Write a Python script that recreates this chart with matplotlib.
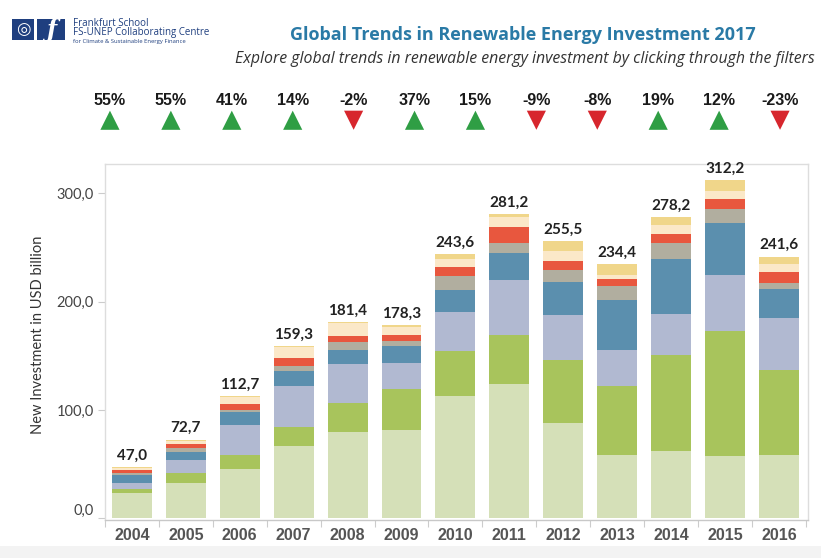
import matplotlib
matplotlib.use("Agg")
import matplotlib.pyplot as plt
from matplotlib.patches import Rectangle
import numpy as np

# --- data (USD billion) ---
years = ["2004", "2005", "2006", "2007", "2008", "2009", "2010",
         "2011", "2012", "2013", "2014", "2015", "2016"]
totals = [47.0, 72.7, 112.7, 159.3, 181.4, 178.3, 243.6,
          281.2, 255.5, 234.4, 278.2, 312.2, 241.6]

europe   = [23.7, 32.3, 45.8, 66.6, 79.9, 81.4, 113.0, 123.8, 87.7, 58.3, 62.0, 57.4, 58.3]
china    = [3.0, 9.2, 12.3, 17.5, 26.7, 38.4, 41.0, 45.0, 58.6, 63.9, 88.3, 115.7, 78.7]
us       = [5.6, 12.0, 28.5, 38.5, 36.0, 23.7, 36.5, 50.9, 41.7, 33.4, 38.6, 51.9, 47.9]
asia_oc  = [7.6, 8.0, 11.7, 13.2, 13.2, 15.3, 20.0, 25.4, 30.2, 46.3, 50.6, 47.2, 27.1]
americas = [2.2, 3.7, 1.5, 5.2, 6.7, 5.3, 12.9, 9.3, 10.8, 12.3, 14.9, 13.0, 5.3]
brazil   = [2.4, 3.0, 6.2, 7.1, 5.5, 5.5, 8.7, 14.8, 8.3, 7.1, 8.3, 9.2, 10.2]
mea      = [1.7, 3.5, 5.7, 10.2, 12.4, 6.7, 7.4, 8.9, 9.3, 3.7, 7.7, 7.7, 6.8]
india    = [0.8, 1.0, 1.0, 1.0, 1.0, 2.0, 4.1, 3.1, 8.9, 9.4, 7.8, 10.1, 7.3]

changes = [55, 55, 41, 14, -2, 37, 15, -9, -8, 19, 12, -23]

series = [europe, china, us, asia_oc, americas, brazil, mea, india]
colors = ["#d5e0b8", "#a8c45c", "#b1b9d1", "#5b8fae",
          "#b1ae9f", "#e8573e", "#fbe8c8", "#f0d68a"]

W, H = 821, 558
fig = plt.figure(figsize=(W / 100, H / 100), dpi=100)
fig.patch.set_facecolor("white")

# light band at the very bottom
fig.patches.append(Rectangle((0, 0), 1, 12 / H, transform=fig.transFigure,
                             facecolor="#f3f3f3", edgecolor="none", zorder=0))

# --- main chart ---
ax = fig.add_axes([105 / W, (H - 520) / H, 703 / W, 356 / H])
x = np.arange(len(years))
bottom = np.zeros(len(years))
for vals, c in zip(series, colors):
    ax.bar(x, vals, width=0.74, bottom=bottom, color=c, edgecolor="none", zorder=2)
    bottom += np.array(vals)

for xi, t in zip(x, totals):
    ax.text(xi, t + 4, f"{t:.1f}".replace(".", ","), ha="center", va="bottom",
            fontsize=11, fontweight="bold", color="#222222", family=["Lato", "DejaVu Sans"])

ax.set_xlim(-0.48, 12.54)
ax.set_ylim(-1.5, 327)
ax.set_yticks([0, 100, 200, 300])
ax.set_yticklabels(["0,0", "100,0", "200,0", "300,0"], fontsize=10.5,
                   color="#444444", family=["Lato", "DejaVu Sans"])
ax.get_yticklabels()[0].set_verticalalignment("bottom")
ax.tick_params(axis="y", length=5, color="#cccccc", width=0.8, pad=3)

ax.set_xticks(x)
ax.set_xticklabels(years, fontsize=11.5, fontweight="bold", color="#555555",
                   family=["Liberation Sans Narrow", "Liberation Sans", "DejaVu Sans"])
ax.tick_params(axis="x", length=0, pad=6)
ax.set_xticks(np.arange(-0.5, len(years), 1), minor=True)
ax.tick_params(axis="x", which="minor", length=5, color="#cccccc", width=0.8)

for s in ax.spines.values():
    s.set_color("#dddddd")
    s.set_linewidth(1)
ax.spines["bottom"].set_color("#c8c8c8")

ax.set_ylabel("New Investment in USD billion", fontsize=10.5, color="#333333",
              family=["Lato", "DejaVu Sans"])
ax.yaxis.set_label_coords(-0.086, 0.52)

# --- change indicators row ---
ax2 = fig.add_axes([79.5 / W, (H - 132) / H, 731 / W, 42 / H])
ax2.set_xlim(-0.5, len(changes) - 0.5)
ax2.set_ylim(0, 1)
ax2.axis("off")
for i, ch in enumerate(changes):
    ax2.text(i, 0.74, f"{ch}%", ha="center", va="center", fontsize=11.5,
             fontweight="bold", color="#1a1a1a",
             family=["Liberation Sans Narrow", "Liberation Sans", "DejaVu Sans"])
    if ch >= 0:
        ax2.scatter(i, 0.28, marker="^", s=190, color="#2f9e44", edgecolors="none")
    else:
        ax2.scatter(i, 0.28, marker="v", s=190, color="#d7262d", edgecolors="none")

# --- titles ---
fig.text(523 / W, 1 - 35 / H, "Global Trends in Renewable Energy Investment 2017",
         ha="center", va="center", fontsize=13, fontweight="bold", color="#2a7aa6",
         family=["Open Sans", "DejaVu Sans"])
fig.text(815 / W, 1 - 59 / H,
         "Explore global trends in renewable energy investment by clicking through the filters",
         ha="right", va="center", fontsize=11.4, style="italic", color="#333333",
         family=["Open Sans", "DejaVu Sans"])

# --- logo ---
navy = "#1f3f7f"
fig.patches.append(Rectangle((12 / W, 1 - 40 / H), 22 / W, 21 / H,
                             transform=fig.transFigure, facecolor=navy, edgecolor="none"))
fig.patches.append(Rectangle((37 / W, 1 - 40 / H), 28 / W, 21 / H,
                             transform=fig.transFigure, facecolor=navy, edgecolor="none"))
fig.text(23 / W, 1 - 29.5 / H, "◎", ha="center", va="center", fontsize=12,
         color="white", family=["DejaVu Sans"])
fig.text(51 / W, 1 - 29.5 / H, "ƒ", ha="center", va="center", fontsize=17,
         color="white", style="italic", fontweight="bold", family=["DejaVu Serif"])
fig.text(73 / W, 1 - 23 / H, "Frankfurt School", ha="left", va="center",
         fontsize=7, color=navy, family=["Open Sans", "DejaVu Sans"])
fig.text(73 / W, 1 - 33 / H, "FS-UNEP Collaborating Centre", ha="left", va="center",
         fontsize=7, color=navy, family=["Open Sans", "DejaVu Sans"])
fig.text(73 / W, 1 - 42 / H, "for Climate & Sustainable Energy Finance", ha="left",
         va="center", fontsize=4.2, color=navy, family=["Open Sans", "DejaVu Sans"])

fig.savefig("out.png", dpi=100)
